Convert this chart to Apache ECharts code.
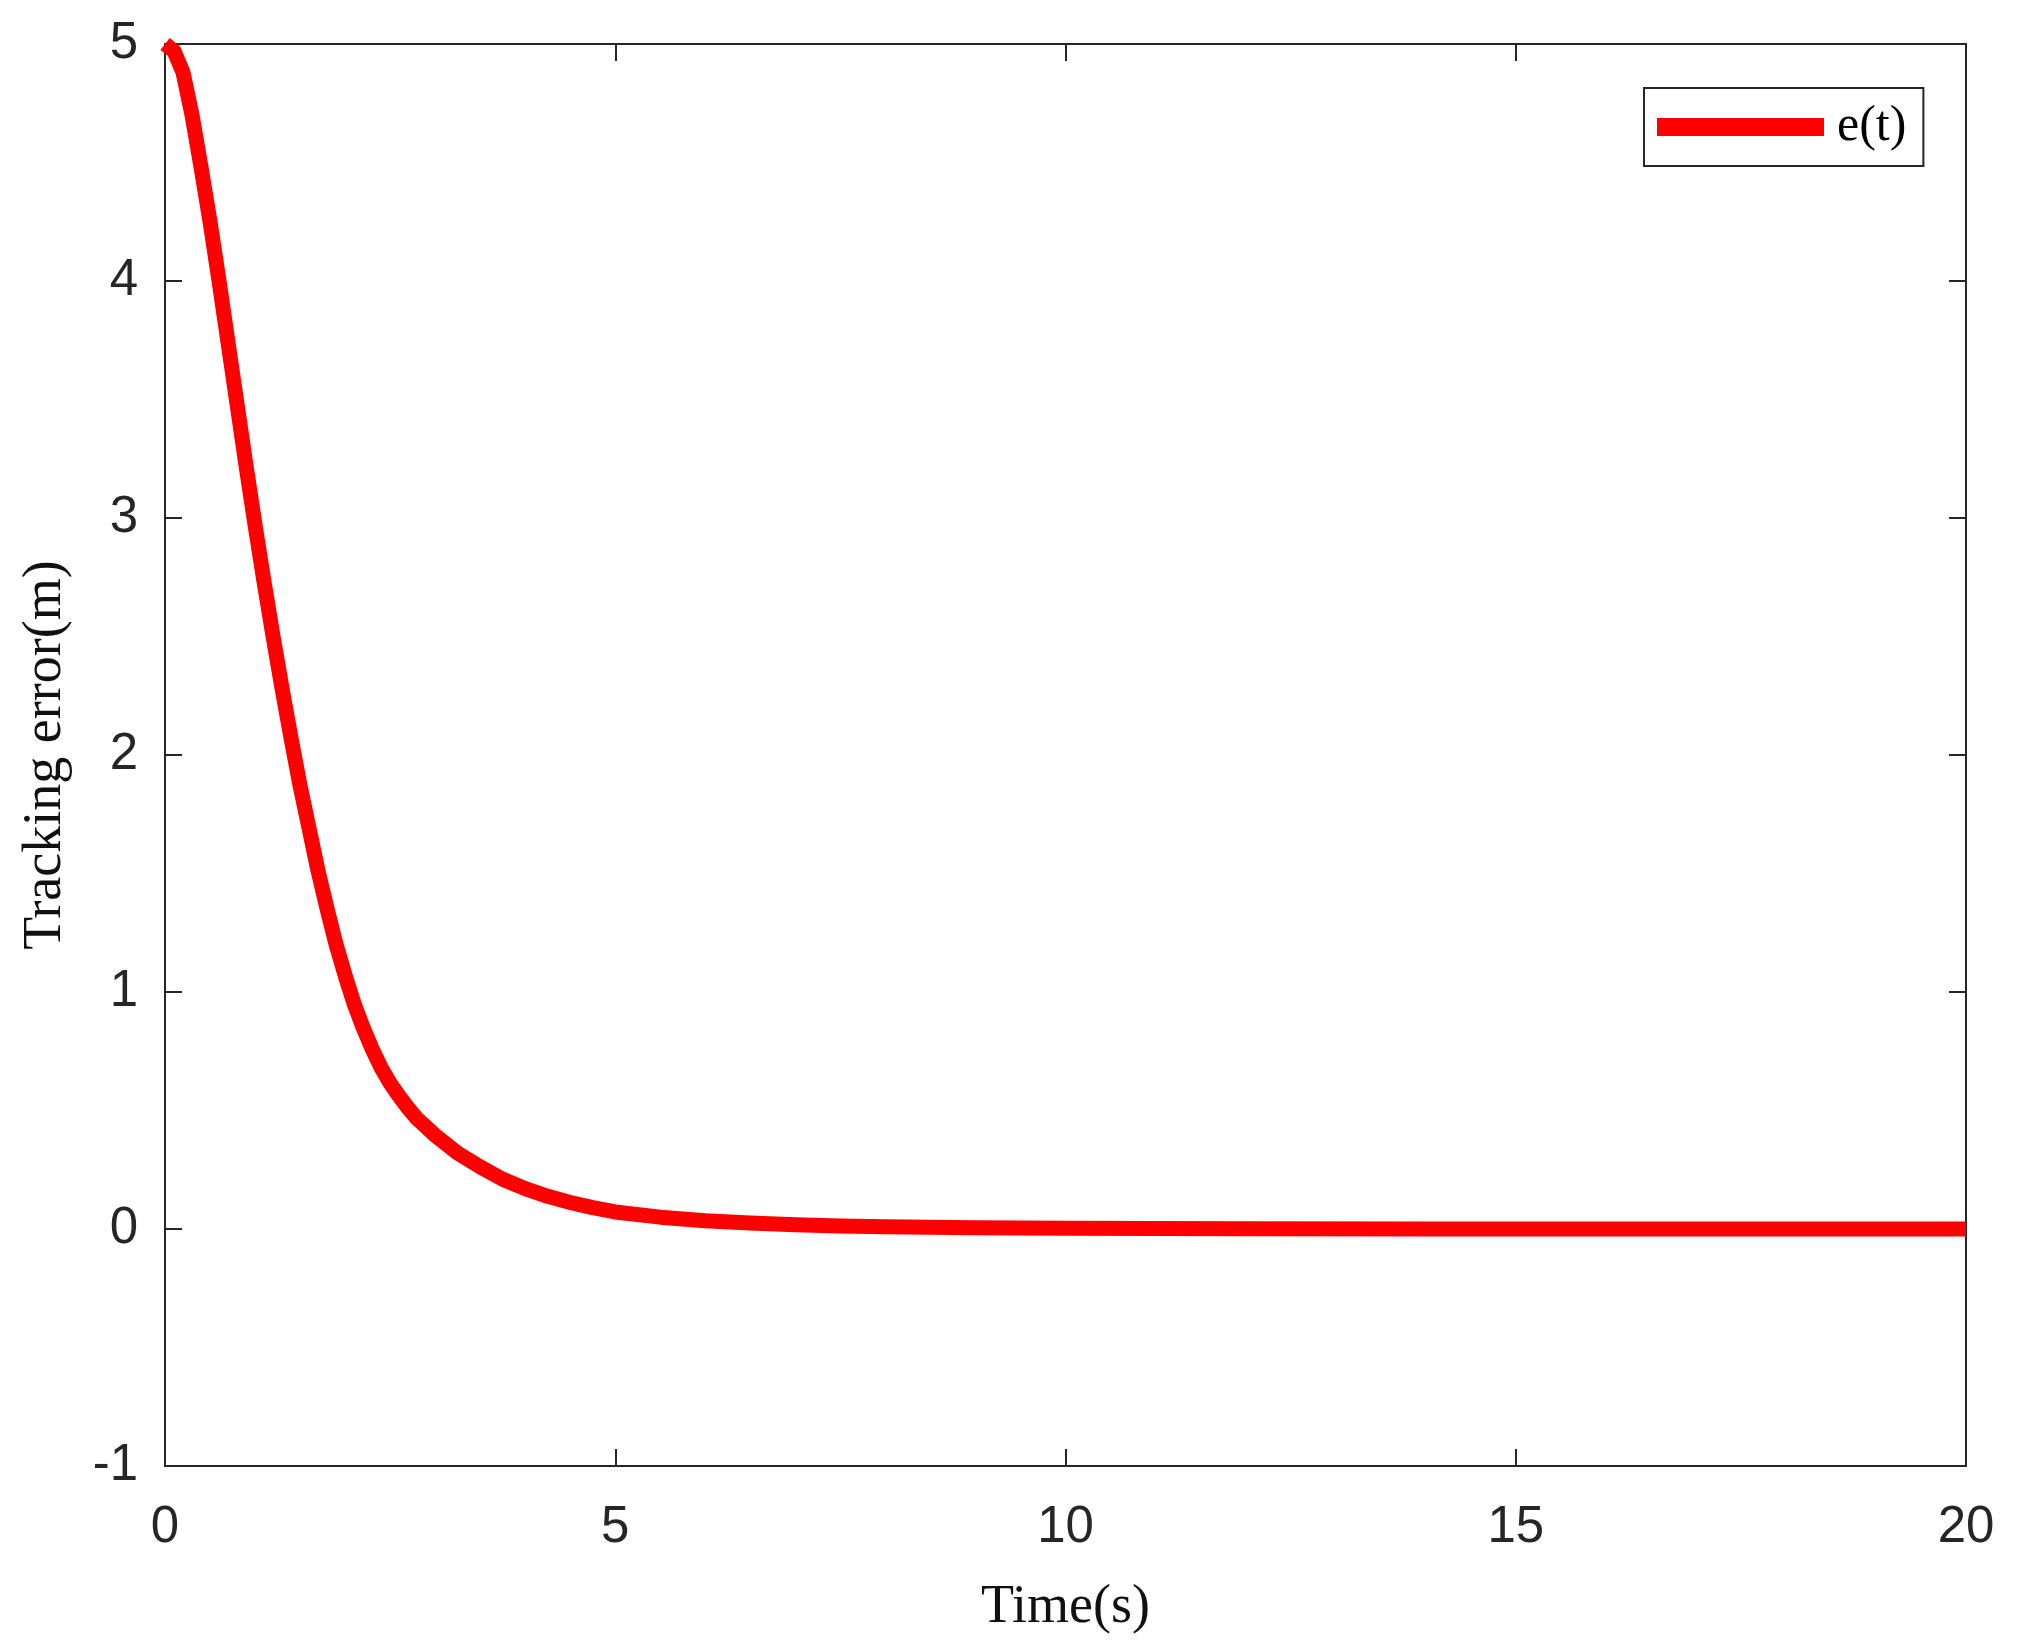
<!DOCTYPE html>
<html>
<head>
<meta charset="utf-8">
<script src="https://cdn.jsdelivr.net/npm/echarts@6/dist/echarts.min.js"></script>
<style>
html,body{margin:0;padding:0;background:#fff;}
#chart{width:2021px;height:1648px;}
</style>
</head>
<body>
<div id="chart"></div>
<script>
// Time (s)
const timeValues = [0, 0.1, 0.2, 0.3, 0.4, 0.5, 0.6, 0.7, 0.8, 0.9, 1.0, 1.1, 1.2, 1.3, 1.4, 1.5, 1.6, 1.7, 1.8, 1.9, 2.0, 2.1, 2.2, 2.3, 2.4, 2.5, 2.6, 2.7, 2.8, 2.9, 3.0, 3.25, 3.5, 3.75, 4.0, 4.25, 4.5, 4.75, 5.0, 5.5, 6.0, 6.5, 7.0, 7.5, 8.0, 9.0, 10, 11, 12, 14, 16, 18, 20];
// Tracking error e(t) (m)
const errorValues = [5.00, 4.97, 4.88, 4.70, 4.48, 4.25, 4.00, 3.74, 3.48, 3.22, 2.97, 2.73, 2.50, 2.28, 2.07, 1.87, 1.69, 1.51, 1.35, 1.20, 1.07, 0.95, 0.85, 0.76, 0.68, 0.615, 0.56, 0.51, 0.465, 0.43, 0.395, 0.32, 0.262, 0.21, 0.17, 0.138, 0.112, 0.09, 0.072, 0.05, 0.035, 0.025, 0.018, 0.013, 0.009, 0.005, 0.003, 0.002, 0.001, 0, 0, 0, 0];
const seriesName = 'e(t)';
const xTicks = { min: 0, max: 20, interval: 5 };
const yTicks = { min: -1, max: 5, interval: 1 };
const xTitle = 'Time(s)';
const yTitle = 'Tracking error(m)';

const data = timeValues.map((t, i) => [t, errorValues[i]]);
const axisColor = '#262626';
const sans = 'Liberation Sans, Arial, sans-serif';
const serif = 'Liberation Serif, Times New Roman, serif';

const chart = echarts.init(document.getElementById('chart'), null, { renderer: 'canvas' });
const lineCommon = { show: true, onZero: false, lineStyle: { color: axisColor, width: 2 } };
const tickCommon = { show: true, inside: true, length: 17, lineStyle: { color: axisColor, width: 2 } };

chart.setOption({
  backgroundColor: '#ffffff',
  animation: false,
  grid: { left: 165, right: 55, top: 44, bottom: 182, containLabel: false },
  legend: {
    data: [{ name: seriesName, icon: 'rect' }],
    left: 1644, top: 88,
    padding: [14, 17, 14, 13],
    itemWidth: 167, itemHeight: 18,
    borderColor: axisColor, borderWidth: 2,
    backgroundColor: '#fff',
    textStyle: { fontFamily: serif, fontSize: 50, color: '#000', padding: [0, 0, 0, 8], lineHeight: 50 }
  },
  xAxis: [
    {
      type: 'value', position: 'bottom', min: xTicks.min, max: xTicks.max, interval: xTicks.interval,
      name: xTitle, nameLocation: 'middle', nameGap: 115,
      nameTextStyle: { fontFamily: serif, fontSize: 54, color: '#111' },
      axisLine: lineCommon, axisTick: tickCommon, splitLine: { show: false },
      axisLabel: { fontFamily: sans, fontSize: 51, color: axisColor, margin: 36 }
    },
    {
      type: 'value', position: 'top', min: xTicks.min, max: xTicks.max, interval: xTicks.interval,
      axisLine: lineCommon, axisTick: tickCommon, splitLine: { show: false },
      axisLabel: { show: false }
    }
  ],
  yAxis: [
    {
      type: 'value', position: 'left', min: yTicks.min, max: yTicks.max, interval: yTicks.interval,
      name: yTitle, nameLocation: 'middle', nameGap: 92,
      nameTextStyle: { fontFamily: serif, fontSize: 54, color: '#111' },
      axisLine: lineCommon, axisTick: tickCommon, splitLine: { show: false },
      axisLabel: { fontFamily: sans, fontSize: 51, color: axisColor, margin: 27 }
    },
    {
      type: 'value', position: 'right', min: yTicks.min, max: yTicks.max, interval: yTicks.interval,
      axisLine: lineCommon, axisTick: tickCommon, splitLine: { show: false },
      axisLabel: { show: false }
    }
  ],
  series: [
    {
      name: seriesName, type: 'line', xAxisIndex: 0, yAxisIndex: 0,
      data: data, showSymbol: false, symbol: 'none',
      smooth: false, clip: false,
      itemStyle: { color: '#ff0000' },
      lineStyle: { color: '#ff0000', width: 15, cap: 'butt', join: 'round' }
    }
  ]
});
</script>
</body>
</html>
